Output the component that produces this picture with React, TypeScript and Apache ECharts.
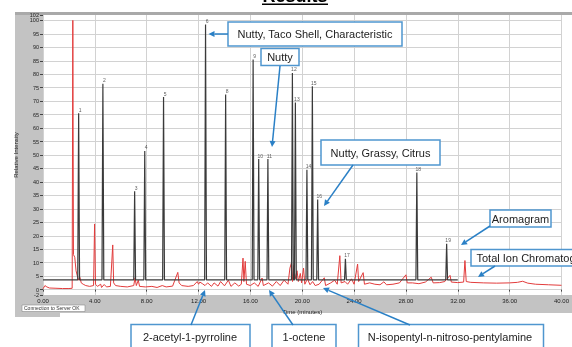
import React, { useEffect, useRef } from "react";
import * as echarts from "echarts";

// Aromagram peaks (black trace)
const peakLabels = ["1", "2", "3", "4", "5", "6", "8", "9", "10", "11", "12", "13", "14", "15", "16", "17", "18", "19"];
const peakTimes = [2.75, 4.62, 7.07, 7.85, 9.3, 12.54, 14.09, 16.21, 16.64, 17.35, 19.24, 19.47, 20.36, 20.78, 21.19, 23.33, 28.84, 31.14];
const peakHeights = [65.5, 76.5, 36.5, 51.5, 71.5, 98.5, 72.5, 85.5, 48.5, 48.5, 80.5, 69.5, 44.5, 75.5, 33.5, 11.5, 43.5, 17];
const aromaBaseline = 3.6;
const aromaEnd = 32;

// Total ion chromatogram (red trace)
const ticTimes = [
  0, 0.15, 0.3, 0.5, 1.0, 1.5, 2.0, 2.25, 2.3, 2.35, 2.45, 2.55, 2.65, 2.75, 2.85, 2.95, 3.1, 3.3, 3.6, 3.9,
  3.98, 4.05, 4.2, 4.45, 4.52, 4.72, 4.9, 5.2, 5.38, 5.45, 5.6, 6.0, 6.5, 7.0, 7.1, 7.2, 7.35, 7.45, 7.9, 8.4,
  8.8, 9.2, 9.5, 10.0, 10.4, 10.5, 10.7, 11.2, 11.6, 11.9, 12.0, 12.1, 12.3, 12.5, 12.7, 13.0, 13.2, 13.5, 13.7, 14.0,
  14.3, 14.5, 14.8, 15.1, 15.3, 15.43, 15.5, 15.6, 15.7, 16.0, 16.3, 16.6, 16.9, 17.0, 17.4, 17.7, 18.0, 18.3, 18.6, 18.9,
  19.05, 19.17, 19.25, 19.35, 19.45, 19.6, 19.7, 19.85, 19.95, 20.1, 20.2, 20.4, 20.6, 20.8, 21.0, 21.3, 21.7, 21.8, 22.2, 22.5,
  22.7, 22.9, 23.0, 23.3, 23.5, 23.8, 24.0, 24.27, 24.35, 24.7, 24.8, 25.2, 25.6, 26.0, 26.3, 26.5, 27.0, 27.5, 28.0, 28.1,
  28.5, 29.0, 29.5, 29.95, 30.1, 30.6, 31.0, 31.4, 31.5, 32.0, 32.45, 32.55, 32.65, 33.0, 34.0, 35.0, 36.0, 36.6, 37.0, 37.4,
  38.0, 39.0, 40.0,
];
const ticValues = [
  0.3, 1.5, 1.0, 0.6, 0.5, 0.4, 0.4, 0.5, 100, 13, 12, 7, 5, 3.5, 4.5, 2.5, 2.0, 1.5, 1.2, 1.5,
  24.4, 2.0, 1.2, 2.0, 0.8, 1.9, 1.0, 1.2, 16.6, 2.5, 1.5, 1.2, 1.0, 1.5, 4.4, 1.5, 3.5, 1.2, 1.0, 1.2,
  0.8, 1.5, 1.0, 1.3, 6.4, 2.5, 1.5, 1.2, 1.5, 3.0, 2.0, 2.8, 2.2, 1.5, 2.5, 1.2, 2.5, 1.3, 3.0, 1.4,
  3.5, 1.2, 2.5, 1.3, 2.0, 11.7, 3.0, 10.5, 2.0, 1.5, 2.5, 1.2, 4.3, 1.5, 2.5, 1.3, 3.0, 1.5, 3.5, 2.0,
  8.0, 10.0, 3.0, 9.0, 4.0, 7.0, 3.0, 6.0, 2.5, 8.0, 2.0, 4.0, 1.8, 3.0, 1.5, 2.0, 4.4, 1.5, 2.5, 3.5,
  2.0, 12.6, 2.5, 3.0, 2.0, 4.0, 2.0, 9.5, 3.0, 6.3, 2.0, 2.5, 2.0, 1.8, 2.9, 1.8, 2.0, 2.5, 5.5, 2.5,
  2.5, 2.2, 2.8, 4.6, 2.5, 2.6, 3.0, 5.3, 2.8, 2.6, 2.8, 10.8, 3.0, 2.7, 2.5, 2.4, 2.5, 2.7, 3.1, 2.4,
  2.0, 1.8, 1.6,
];

const yTicks = [0, 5, 10, 15, 20, 25, 30, 35, 40, 45, 50, 55, 60, 65, 70, 75, 80, 85, 90, 95, 100];
const yEdgeTicks = [-2, 102];
const yMin = -2;
const yMax = 102;

const BLUE = "#2a80c6";
const BOX = "#4f96cf";
const FONT = "Liberation Sans, Arial, sans-serif";

function arrow(x1: number, y1: number, x2: number, y2: number) {
  const dx = x2 - x1, dy = y2 - y1;
  const L = Math.hypot(dx, dy);
  const ux = dx / L, uy = dy / L;
  const hl = 6, hw = 3;
  const bx = x2 - ux * hl, by = y2 - uy * hl;
  const px = -uy, py = ux;
  return [
    { type: "line", z: 100, shape: { x1, y1, x2: bx, y2: by }, style: { stroke: BLUE, lineWidth: 1.5 } },
    {
      type: "polygon", z: 100,
      shape: { points: [[x2, y2], [bx + px * hw, by + py * hw], [bx - px * hw, by - py * hw]] },
      style: { fill: BLUE },
    },
  ];
}

function box(x: number, y: number, w: number, h: number, text: string, tx: number, ty: number, align = "center") {
  return [
    { type: "rect", z: 100, shape: { x, y, width: w, height: h }, style: { fill: "#fff", stroke: BOX, lineWidth: 1.5 } },
    {
      type: "text", z: 101, x: tx, y: ty,
      style: { text, fill: "#222", font: `11px ${FONT}`, textAlign: align, textVerticalAlign: "middle" },
    },
  ];
}

export default function App() {
  const ref = useRef<HTMLDivElement>(null);
  useEffect(() => {
    if (!ref.current) return;
    const chart = echarts.init(ref.current, undefined, { renderer: "svg" });

    const aroma: number[][] = [[0, aromaBaseline]];
    peakTimes.forEach((t, i) => {
      aroma.push([t - 0.07, aromaBaseline], [t, peakHeights[i]], [t + 0.07, aromaBaseline]);
    });
    aroma.push([aromaEnd, aromaBaseline]);
    const tic = ticTimes.map((t, i) => [t, ticValues[i]]);
    const labelsData = peakTimes.map((t, i) => ({ value: [t, peakHeights[i]], name: peakLabels[i] }));

    const graphics: any[] = [
      // window frame
      { type: "rect", z: -20, shape: { x: 15, y: 12, width: 560, height: 301 }, style: { fill: "#c3c3c3" } },
      { type: "rect", z: -20, shape: { x: 15, y: 313, width: 45, height: 4 }, style: { fill: "#c3c3c3" } },
      { type: "rect", z: -19, shape: { x: 15, y: 12, width: 560, height: 3 }, style: { fill: "#a9a9a9" } },
      { type: "rect", z: -18, shape: { x: 43, y: 15, width: 530, height: 280 }, style: { fill: "#ffffff" } },
      // status box
      { type: "rect", z: 50, shape: { x: 22, y: 305, width: 63, height: 6.5 }, style: { fill: "#fff", stroke: "#8a8a8a", lineWidth: 0.6 } },
      { type: "text", z: 51, x: 24, y: 308.4, style: { text: "Connection to Server OK", fill: "#333", font: `5px ${FONT}`, textVerticalAlign: "middle" } },
      // title (cut off at the top edge, as in the source)
      { type: "text", z: 50, x: 295, y: 4.5, style: { text: "Results", fill: "#000", font: `bold 18px ${FONT}`, textAlign: "center", textVerticalAlign: "bottom" } },
      { type: "line", z: 50, shape: { x1: 262, y1: 4.2, x2: 328, y2: 4.2 }, style: { stroke: "#000", lineWidth: 1.5 } },
      ...box(228, 22, 174, 24, "Nutty, Taco Shell, Characteristic", 315, 34),
      ...arrow(228, 34, 208.5, 34),
      ...box(261, 48.5, 38, 17, "Nutty", 280, 57),
      ...arrow(280, 66, 272, 147),
      ...box(321, 140, 119, 25, "Nutty, Grassy, Citrus", 380.5, 152.5),
      ...arrow(353, 165, 324, 206),
      ...box(490, 210, 61, 17, "Aromagram", 520.5, 218.5),
      ...arrow(490, 226, 461, 245),
      ...box(471, 249.5, 115, 16.5, "Total Ion Chromatogram", 476.5, 258, "left"),
      ...arrow(495, 266, 478, 277),
      ...box(131, 324.5, 119, 30, "2-acetyl-1-pyrroline", 190, 336.5),
      ...arrow(191, 325, 205, 290),
      ...box(272, 324.5, 64, 30, "1-octene", 304, 336.5),
      ...arrow(293, 325, 269, 290),
      ...box(358.5, 324.5, 185, 30, "N-isopentyl-n-nitroso-pentylamine", 450, 336.5),
      ...arrow(410, 325, 323, 288),
    ];

    const yLabelStyle = { fontSize: 5.5, color: "#222", margin: 4, fontFamily: FONT };

    chart.setOption({
      animation: false,
      grid: { left: 43, right: 1, top: 15, bottom: 52 },
      xAxis: {
        type: "value", min: 0, max: 40, interval: 4,
        name: "Time (minutes)", nameLocation: "middle", nameGap: 10,
        nameTextStyle: { fontSize: 6, color: "#222", fontFamily: FONT },
        axisLine: { show: false },
        axisTick: { show: true, length: 2, lineStyle: { color: "#444" } },
        axisLabel: { fontSize: 6, color: "#222", margin: 3, fontFamily: FONT, formatter: (v: number) => v.toFixed(2) },
        splitLine: { show: true, lineStyle: { color: "#d2d2d2", width: 1 } },
      },
      yAxis: [
        {
          type: "value", min: yMin, max: yMax, position: "left",
          name: "Relative Intensity", nameLocation: "middle", nameGap: 16, nameRotate: 90,
          nameTextStyle: { fontSize: 6, color: "#222", fontFamily: FONT },
          axisLine: { show: false },
          axisTick: { show: true, length: 3, customValues: yTicks, lineStyle: { color: "#444" } },
          axisLabel: { ...yLabelStyle, customValues: yTicks, showMinLabel: true, showMaxLabel: true },
          splitLine: { show: true, lineStyle: { color: "#d2d2d2", width: 1 } },
        },
        {
          type: "value", min: yMin, max: yMax, position: "left", offset: 0,
          axisLine: { show: false },
          axisTick: { show: true, length: 3, customValues: yEdgeTicks, lineStyle: { color: "#444" } },
          axisLabel: { ...yLabelStyle, customValues: yEdgeTicks, showMinLabel: true, showMaxLabel: true },
          splitLine: { show: false },
        },
      ],
      series: [
        {
          type: "line", data: tic, symbol: "none", smooth: false, yAxisIndex: 0,
          lineStyle: { color: "#e23c3c", width: 1 }, z: 2,
        },
        {
          type: "line", data: aroma, symbol: "none", smooth: false, yAxisIndex: 0,
          lineStyle: { color: "#3a3a3a", width: 1.2 }, z: 3,
        },
        {
          type: "scatter", data: labelsData, symbolSize: 0, z: 4, yAxisIndex: 0,
          label: {
            show: true, position: "top", distance: 1, offset: [1.5, 0],
            formatter: (p: any) => p.name, fontSize: 5, color: "#333", fontFamily: FONT,
          },
        },
      ],
      graphic: { elements: graphics },
    });
    return () => chart.dispose();
  }, []);
  return <div ref={ref} style={{ position: "fixed", left: 0, top: 0, width: 572, height: 347 }} />;
}
